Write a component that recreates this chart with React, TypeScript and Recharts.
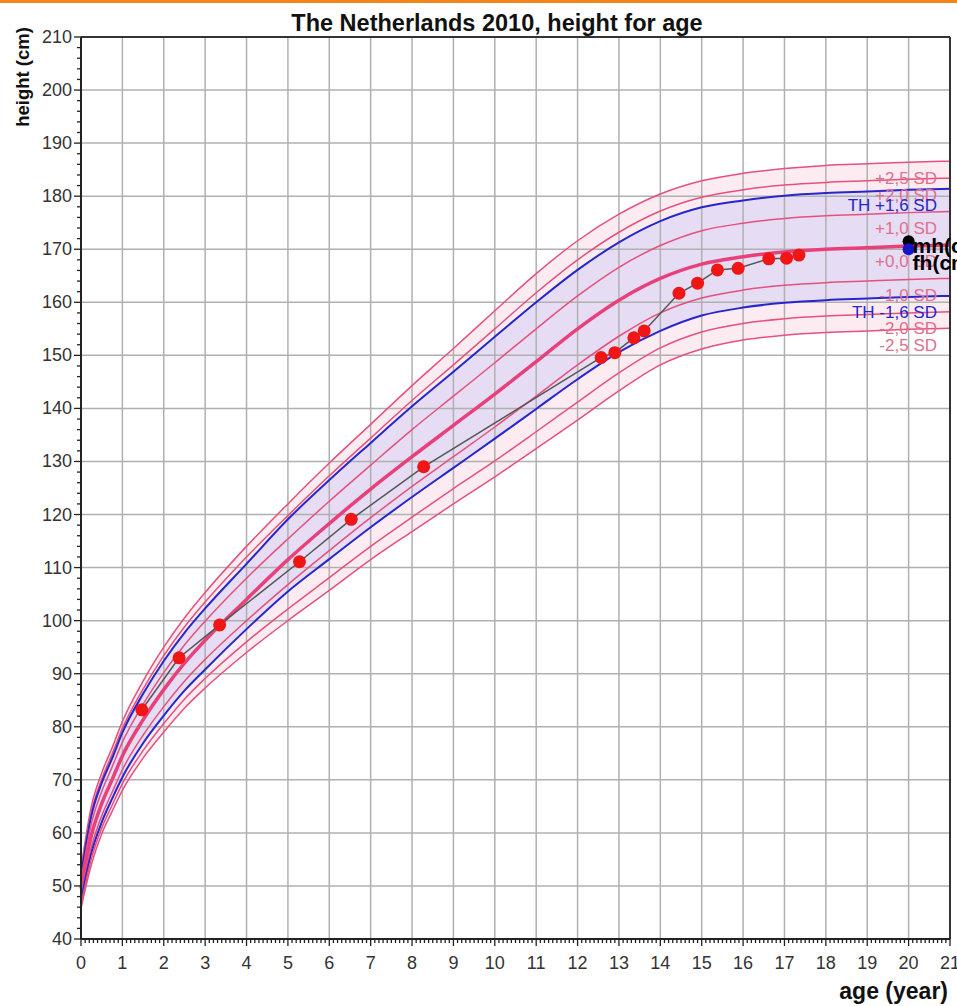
import React from 'react';
import { ComposedChart, Line, Area, XAxis, YAxis, ReferenceLine, LabelList, Label } from 'recharts';

const FONT = "'Liberation Sans', Arial, Helvetica, sans-serif";

// reference curves (girls)
const ages = [0, 0.25, 0.5, 0.75, 1, 1.5, 2, 2.5, 3, 4, 5, 6, 7, 8, 9, 10, 11, 12, 13, 14, 15, 16, 17, 18, 19, 20, 21];
const sdPlus25 = [53.3, 65.0, 71.3, 76.0, 81.0, 88.6, 95.0, 100.5, 105.3, 114.0, 122.0, 129.7, 137.0, 144.3, 151.3, 158.4, 165.4, 171.6, 176.6, 180.4, 182.9, 184.3, 185.2, 185.8, 186.1, 186.4, 186.6];
const sdPlus20 = [52.5, 63.9, 70.1, 74.8, 79.7, 87.1, 93.4, 98.8, 103.5, 112.0, 119.8, 127.3, 134.4, 141.5, 148.2, 155.0, 161.8, 168.0, 173.2, 177.2, 179.8, 181.2, 182.1, 182.6, 182.9, 183.2, 183.4];
const thPlus16 = [52.0, 63.2, 69.4, 74.0, 78.9, 86.2, 92.4, 97.7, 102.3, 110.7, 119.1, 126.5, 133.5, 140.4, 146.9, 153.5, 160.0, 166.1, 171.3, 175.3, 177.9, 179.2, 180.1, 180.6, 180.9, 181.2, 181.4];
const sdPlus10 = [51.0, 61.7, 67.8, 72.4, 77.1, 84.2, 90.2, 95.4, 99.9, 108.0, 115.4, 122.5, 129.3, 136.0, 142.3, 148.6, 155.0, 161.2, 166.6, 170.7, 173.5, 174.9, 175.8, 176.3, 176.6, 176.9, 177.1];
const sdZero = [49.5, 59.5, 65.5, 70.0, 74.5, 81.3, 87.0, 92.0, 96.3, 104.0, 111.5, 118.3, 124.8, 130.9, 136.8, 142.7, 148.8, 155.0, 160.4, 164.5, 167.2, 168.6, 169.5, 170.0, 170.3, 170.6, 170.8];
const sdMin10 = [48.0, 57.3, 63.2, 67.6, 71.9, 78.4, 83.8, 88.6, 92.7, 100.0, 106.8, 113.2, 119.4, 125.3, 130.9, 136.5, 142.3, 148.2, 153.6, 158.0, 160.8, 162.3, 163.2, 163.7, 164.0, 164.3, 164.5];
const thMin16 = [47.2, 56.2, 62.0, 66.4, 70.5, 76.9, 82.1, 86.8, 90.8, 98.4, 105.5, 111.6, 117.6, 123.3, 128.8, 134.3, 139.9, 145.5, 150.6, 154.6, 157.5, 159.0, 159.9, 160.4, 160.7, 161.0, 161.2];
const sdMin20 = [46.5, 55.1, 60.9, 65.2, 69.3, 75.5, 80.6, 85.2, 89.1, 96.0, 102.2, 108.1, 114.0, 119.5, 124.9, 130.1, 135.6, 141.2, 146.7, 151.4, 154.4, 156.0, 156.9, 157.4, 157.7, 158.0, 158.2];
const sdMin25 = [45.8, 54.0, 59.8, 64.0, 68.0, 74.1, 79.0, 83.5, 87.3, 94.0, 100.0, 105.7, 111.5, 116.8, 122.0, 127.1, 132.4, 137.8, 143.3, 148.2, 151.2, 152.9, 153.8, 154.3, 154.6, 154.9, 155.1];

// measurements of the child
const childAges = [1.47, 2.37, 3.35, 5.28, 6.53, 8.28, 12.57, 12.9, 13.36, 13.61, 14.45, 14.9, 15.38, 15.88, 16.62, 17.05, 17.35];
const childHeights = [83.2, 93.0, 99.2, 111.1, 119.1, 129.0, 149.6, 150.5, 153.3, 154.6, 161.7, 163.6, 166.1, 166.4, 168.2, 168.3, 168.9];

// parents
const motherPoint = { age: 20, h: 171.5 };
const fatherPoint = { age: 20, h: 170.0 };

const xMajor = [0, 1, 2, 3, 4, 5, 6, 7, 8, 9, 10, 11, 12, 13, 14, 15, 16, 17, 18, 19, 20, 21];
const yMajor = [40, 50, 60, 70, 80, 90, 100, 110, 120, 130, 140, 150, 160, 170, 180, 190, 200, 210];
const xMinor = Array.from({ length: 211 }, (_, i) => i / 10);
const yMinor = Array.from({ length: 86 }, (_, i) => 40 + i * 2);

const curves = ages.map((age, i) => ({
  age,
  p25: sdPlus25[i],
  p20: sdPlus20[i],
  thp: thPlus16[i],
  p10: sdPlus10[i],
  p00: sdZero[i],
  m10: sdMin10[i],
  thm: thMin16[i],
  m20: sdMin20[i],
  m25: sdMin25[i],
}));
const child = childAges.map((age, i) => ({ age, h: childHeights[i] }));

const PINK = '#e6507c';
const BLUE = '#2626cc';
const PINK_TEXT = '#e0708c';

const XTick = (p: any) => {
  const v = p.payload.value;
  const major = Math.abs(v - Math.round(v)) < 1e-6;
  return (
    <g>
      <line x1={p.x} x2={p.x} y1={p.y} y2={p.y + (major ? 7 : 4)} stroke="#222" strokeWidth={1.3} />
      {major && (
        <text x={p.x} y={p.y + 30} textAnchor="middle" fontSize={18} fontFamily={FONT} fill="#333">
          {Math.round(v)}
        </text>
      )}
    </g>
  );
};

const YTick = (p: any) => {
  const v = p.payload.value;
  const major = v % 10 === 0;
  return (
    <g>
      <line x1={p.x} x2={p.x - (major ? 7 : 4)} y1={p.y} y2={p.y} stroke="#222" strokeWidth={1.3} />
      {major && (
        <text x={p.x - 9} y={p.y} textAnchor="end" dominantBaseline="central" fontSize={18} fontFamily={FONT} fill="#333">
          {v}
        </text>
      )}
    </g>
  );
};

const sdLabel = (text: string, color: string) => (p: any) => {
  if (p.index !== ages.length - 1) return null;
  const x = p.x ?? p.viewBox?.x;
  const y = p.y ?? p.viewBox?.y;
  return (
    <text x={x - 13} y={y + 17} textAnchor="end" dominantBaseline="central" fontSize={17} fontFamily={FONT} fill={color}>
      {text}
    </text>
  );
};

const parentLabel = (text: string, dy: number) => (p: any) => {
  const x = p.x ?? p.viewBox?.x;
  const y = p.y ?? p.viewBox?.y;
  return (
    <text x={x + 4} y={y + dy} dominantBaseline="central" fontSize={21} fontWeight="bold" fontFamily={FONT} fill="#000">
      {text}
    </text>
  );
};

export default function App() {
  return (
    <div style={{ position: 'absolute', left: 0, top: 0, width: 957, height: 1006, background: '#fff', overflow: 'hidden', fontFamily: FONT }}>
      <div style={{ position: 'absolute', left: 0, top: 0, width: 957, height: 3, background: '#f0861a' }} />
      <div style={{ position: 'absolute', left: 0, top: 10, width: 994, textAlign: 'center', fontSize: 23.5, fontWeight: 'bold', lineHeight: '26px', color: '#111' }}>
        The Netherlands 2010, height for age
      </div>
      <ComposedChart width={957} height={1006} margin={{ top: 37, right: 7, bottom: 0, left: 0 }}>
        <XAxis
          dataKey="age"
          type="number"
          domain={[0, 21]}
          ticks={xMinor}
          interval={0}
          tickSize={0}
          tickMargin={0}
          tick={<XTick />}
          height={67}
          axisLine={{ stroke: '#222', strokeWidth: 2 }}
          allowDecimals
        >
          <Label
            content={(props: any) => {
              const vb = props.viewBox;
              return (
                <text x={vb.x + vb.width - 2} y={999} textAnchor="end" fontSize={23} fontWeight="bold" fontFamily={FONT} fill="#111">
                  age (year)
                </text>
              );
            }}
          />
        </XAxis>
        <YAxis
          type="number"
          domain={[40, 210]}
          ticks={yMinor}
          interval={0}
          tickSize={0}
          tickMargin={0}
          tick={<YTick />}
          width={81}
          axisLine={{ stroke: '#222', strokeWidth: 2 }}
        >
          <Label
            content={() => (
              <text x={22} y={77} transform="rotate(-90 22 77)" textAnchor="middle" dominantBaseline="central" fontSize={18.5} fontWeight="bold" fontFamily={FONT} fill="#111">
                height (cm)
              </text>
            )}
          />
        </YAxis>

        {xMajor.slice(1, -1).map((t) => (
          <ReferenceLine key={'gx' + t} x={t} stroke="#b0b0b0" strokeWidth={1.5} />
        ))}
        {yMajor.slice(1, -1).map((t) => (
          <ReferenceLine key={'gy' + t} y={t} stroke="#b0b0b0" strokeWidth={1.5} />
        ))}

        <Area data={curves} dataKey={(d: any) => [d.m25, d.p25]} type="monotone" stroke="none" fill="#fbe4ed" fillOpacity={0.7} isAnimationActive={false} />
        <Area data={curves} dataKey={(d: any) => [d.thm, d.thp]} type="monotone" stroke="none" fill="#e0d8f2" fillOpacity={0.8} isAnimationActive={false} />

        <Line data={curves} dataKey="p25" type="monotone" stroke={PINK} strokeWidth={1.5} dot={false} isAnimationActive={false}>
          <LabelList content={sdLabel('+2,5 SD', PINK_TEXT)} />
        </Line>
        <Line data={curves} dataKey="p20" type="monotone" stroke={PINK} strokeWidth={1.5} dot={false} isAnimationActive={false}>
          <LabelList content={sdLabel('+2,0 SD', PINK_TEXT)} />
        </Line>
        <Line data={curves} dataKey="thp" type="monotone" stroke={BLUE} strokeWidth={2} dot={false} isAnimationActive={false}>
          <LabelList content={sdLabel('TH +1,6 SD', BLUE)} />
        </Line>
        <Line data={curves} dataKey="p10" type="monotone" stroke={PINK} strokeWidth={1.5} dot={false} isAnimationActive={false}>
          <LabelList content={sdLabel('+1,0 SD', PINK_TEXT)} />
        </Line>
        <Line data={curves} dataKey="p00" type="monotone" stroke="#e8407a" strokeWidth={3.5} dot={false} isAnimationActive={false}>
          <LabelList content={sdLabel('+0,0 SD', PINK_TEXT)} />
        </Line>
        <Line data={curves} dataKey="m10" type="monotone" stroke={PINK} strokeWidth={1.5} dot={false} isAnimationActive={false}>
          <LabelList content={sdLabel('-1,0 SD', PINK_TEXT)} />
        </Line>
        <Line data={curves} dataKey="thm" type="monotone" stroke={BLUE} strokeWidth={2} dot={false} isAnimationActive={false}>
          <LabelList content={sdLabel('TH -1,6 SD', BLUE)} />
        </Line>
        <Line data={curves} dataKey="m20" type="monotone" stroke={PINK} strokeWidth={1.5} dot={false} isAnimationActive={false}>
          <LabelList content={sdLabel('-2,0 SD', PINK_TEXT)} />
        </Line>
        <Line data={curves} dataKey="m25" type="monotone" stroke={PINK} strokeWidth={1.5} dot={false} isAnimationActive={false}>
          <LabelList content={sdLabel('-2,5 SD', PINK_TEXT)} />
        </Line>

        <ReferenceLine y={210} stroke="#333" strokeWidth={2} />
        <ReferenceLine x={21} stroke="#333" strokeWidth={2} />

        <Line
          data={child}
          dataKey="h"
          type="linear"
          stroke="#555"
          strokeWidth={1.5}
          dot={{ r: 6.5, fill: '#f01616', stroke: '#f01616', strokeWidth: 0 }}
          isAnimationActive={false}
        />
        <Line data={[motherPoint]} dataKey="h" stroke="none" dot={{ r: 6, fill: '#000', stroke: '#000', strokeWidth: 0 }} isAnimationActive={false}>
          <LabelList content={parentLabel('mh(cm)', 4)} />
        </Line>
        <Line data={[fatherPoint]} dataKey="h" stroke="none" dot={{ r: 6, fill: '#1515c8', stroke: '#1515c8', strokeWidth: 0 }} isAnimationActive={false}>
          <LabelList content={parentLabel('fh(cm)', 13)} />
        </Line>
      </ComposedChart>
    </div>
  );
}
